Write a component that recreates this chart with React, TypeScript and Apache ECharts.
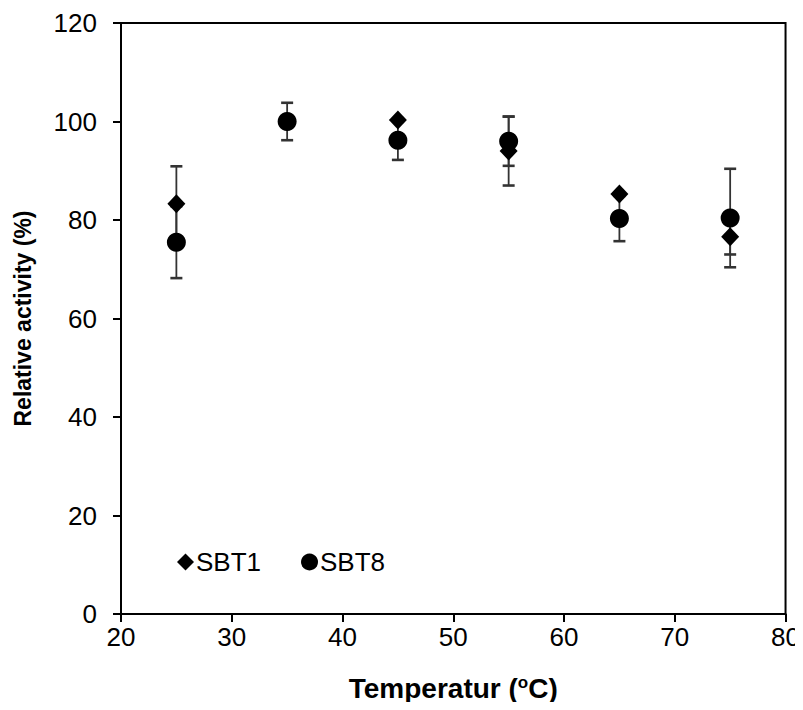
import React, { useEffect, useRef } from "react";
import * as echarts from "echarts";

const temperatures = [25, 35, 45, 55, 65, 75];
const sbt1Values = [83.3, 100, 100.3, 94, 85.3, 76.6];
const sbt1Errors = [7.6, 0, 0, 7, 0, 3.6];
const sbt8Values = [75.5, 100, 96.2, 96, 80.3, 80.4];
const sbt8Errors = [7.3, 3.8, 4, 5, 4.6, 10];
const xTicks = [20, 30, 40, 50, 60, 70, 80];
const yTicks = [0, 20, 40, 60, 80, 100, 120];

const FONT = "'Liberation Sans', Arial, sans-serif";

function errorData(values: number[], errors: number[]) {
  return temperatures
    .map((t, i) => [t, values[i] - errors[i], values[i] + errors[i]])
    .filter((_, i) => errors[i] > 0);
}

function renderError(params: any, api: any) {
  const x = api.value(0);
  const lo = api.coord([x, api.value(1)]);
  const hi = api.coord([x, api.value(2)]);
  const cap = 6;
  const style = { stroke: "#333", lineWidth: 1.8 };
  const capStyle = { stroke: "#333", lineWidth: 2.6 };
  return {
    type: "group",
    children: [
      { type: "line", shape: { x1: lo[0], y1: lo[1], x2: hi[0], y2: hi[1] }, style },
      { type: "line", shape: { x1: lo[0] - cap, y1: lo[1], x2: lo[0] + cap, y2: lo[1] }, style: capStyle },
      { type: "line", shape: { x1: hi[0] - cap, y1: hi[1], x2: hi[0] + cap, y2: hi[1] }, style: capStyle },
    ],
  };
}

export default function App() {
  const ref = useRef<HTMLDivElement>(null);
  useEffect(() => {
    if (!ref.current) return;
    const chart = echarts.init(ref.current, undefined, { renderer: "svg" });
    chart.setOption({
      animation: false,
      backgroundColor: "#fff",
      textStyle: { fontFamily: FONT },
      grid: {
        left: 121,
        right: 17,
        top: 23,
        bottom: 96,
        show: true,
        borderColor: "#000",
        borderWidth: 2,
      },
      legend: {
        left: 172,
        top: 544,
        itemGap: 40,
        itemWidth: 17,
        itemHeight: 17,
        textStyle: { fontSize: 26, color: "#000", fontFamily: FONT, padding: [0, 0, 0, -3] },
        data: [
          { name: "SBT1", icon: "diamond" },
          { name: "SBT8", icon: "circle" },
        ],
      },
      xAxis: {
        type: "value",
        min: 20,
        max: 80,
        interval: 10,
        name: "{a|Temperatur (}{s|o}{a|C)}",
        nameLocation: "middle",
        nameGap: 60,
        nameTextStyle: {
          rich: {
            a: { fontSize: 28, fontWeight: "bold", color: "#000", fontFamily: FONT },
            s: { fontSize: 17, fontWeight: "bold", color: "#000", fontFamily: FONT, verticalAlign: "top", padding: [0, 0, 10, 0] },
          },
        },
        axisLine: { onZero: false, lineStyle: { color: "#000", width: 2 } },
        axisTick: { show: true, length: 8, lineStyle: { color: "#000", width: 2 } },
        axisLabel: {
          fontSize: 26,
          color: "#000",
          margin: 10,
          formatter: (v: number) => (xTicks.includes(v) ? String(v) : ""),
        },
        splitLine: { show: false },
      },
      yAxis: {
        type: "value",
        min: 0,
        max: 120,
        interval: 20,
        name: "Relative activity (%)",
        nameLocation: "middle",
        nameGap: 87,
        nameTextStyle: { fontSize: 23, fontWeight: "bold", color: "#000", fontFamily: FONT },
        axisLine: { onZero: false, lineStyle: { color: "#000", width: 2 } },
        axisTick: { show: true, length: 8, lineStyle: { color: "#000", width: 2 } },
        axisLabel: {
          fontSize: 26,
          color: "#000",
          margin: 24,
          formatter: (v: number) => (yTicks.includes(v) ? String(v) : ""),
        },
        splitLine: { show: false },
      },
      series: [
        {
          type: "custom",
          name: "errSBT1",
          renderItem: renderError,
          data: errorData(sbt1Values, sbt1Errors),
          z: 1,
        },
        {
          type: "custom",
          name: "errSBT8",
          renderItem: renderError,
          data: errorData(sbt8Values, sbt8Errors),
          z: 1,
        },
        {
          type: "scatter",
          name: "SBT1",
          symbol: "diamond",
          symbolSize: [18, 19],
          itemStyle: { color: "#000", opacity: 1 },
          data: temperatures.map((t, i) => [t, sbt1Values[i]]),
          z: 3,
        },
        {
          type: "scatter",
          name: "SBT8",
          symbol: "circle",
          symbolSize: 19,
          itemStyle: { color: "#000", opacity: 1 },
          data: temperatures.map((t, i) => [t, sbt8Values[i]]),
          z: 4,
        },
      ],
    });
    return () => chart.dispose();
  }, []);
  return <div ref={ref} style={{ width: 803, height: 710, margin: -8 }} />;
}
